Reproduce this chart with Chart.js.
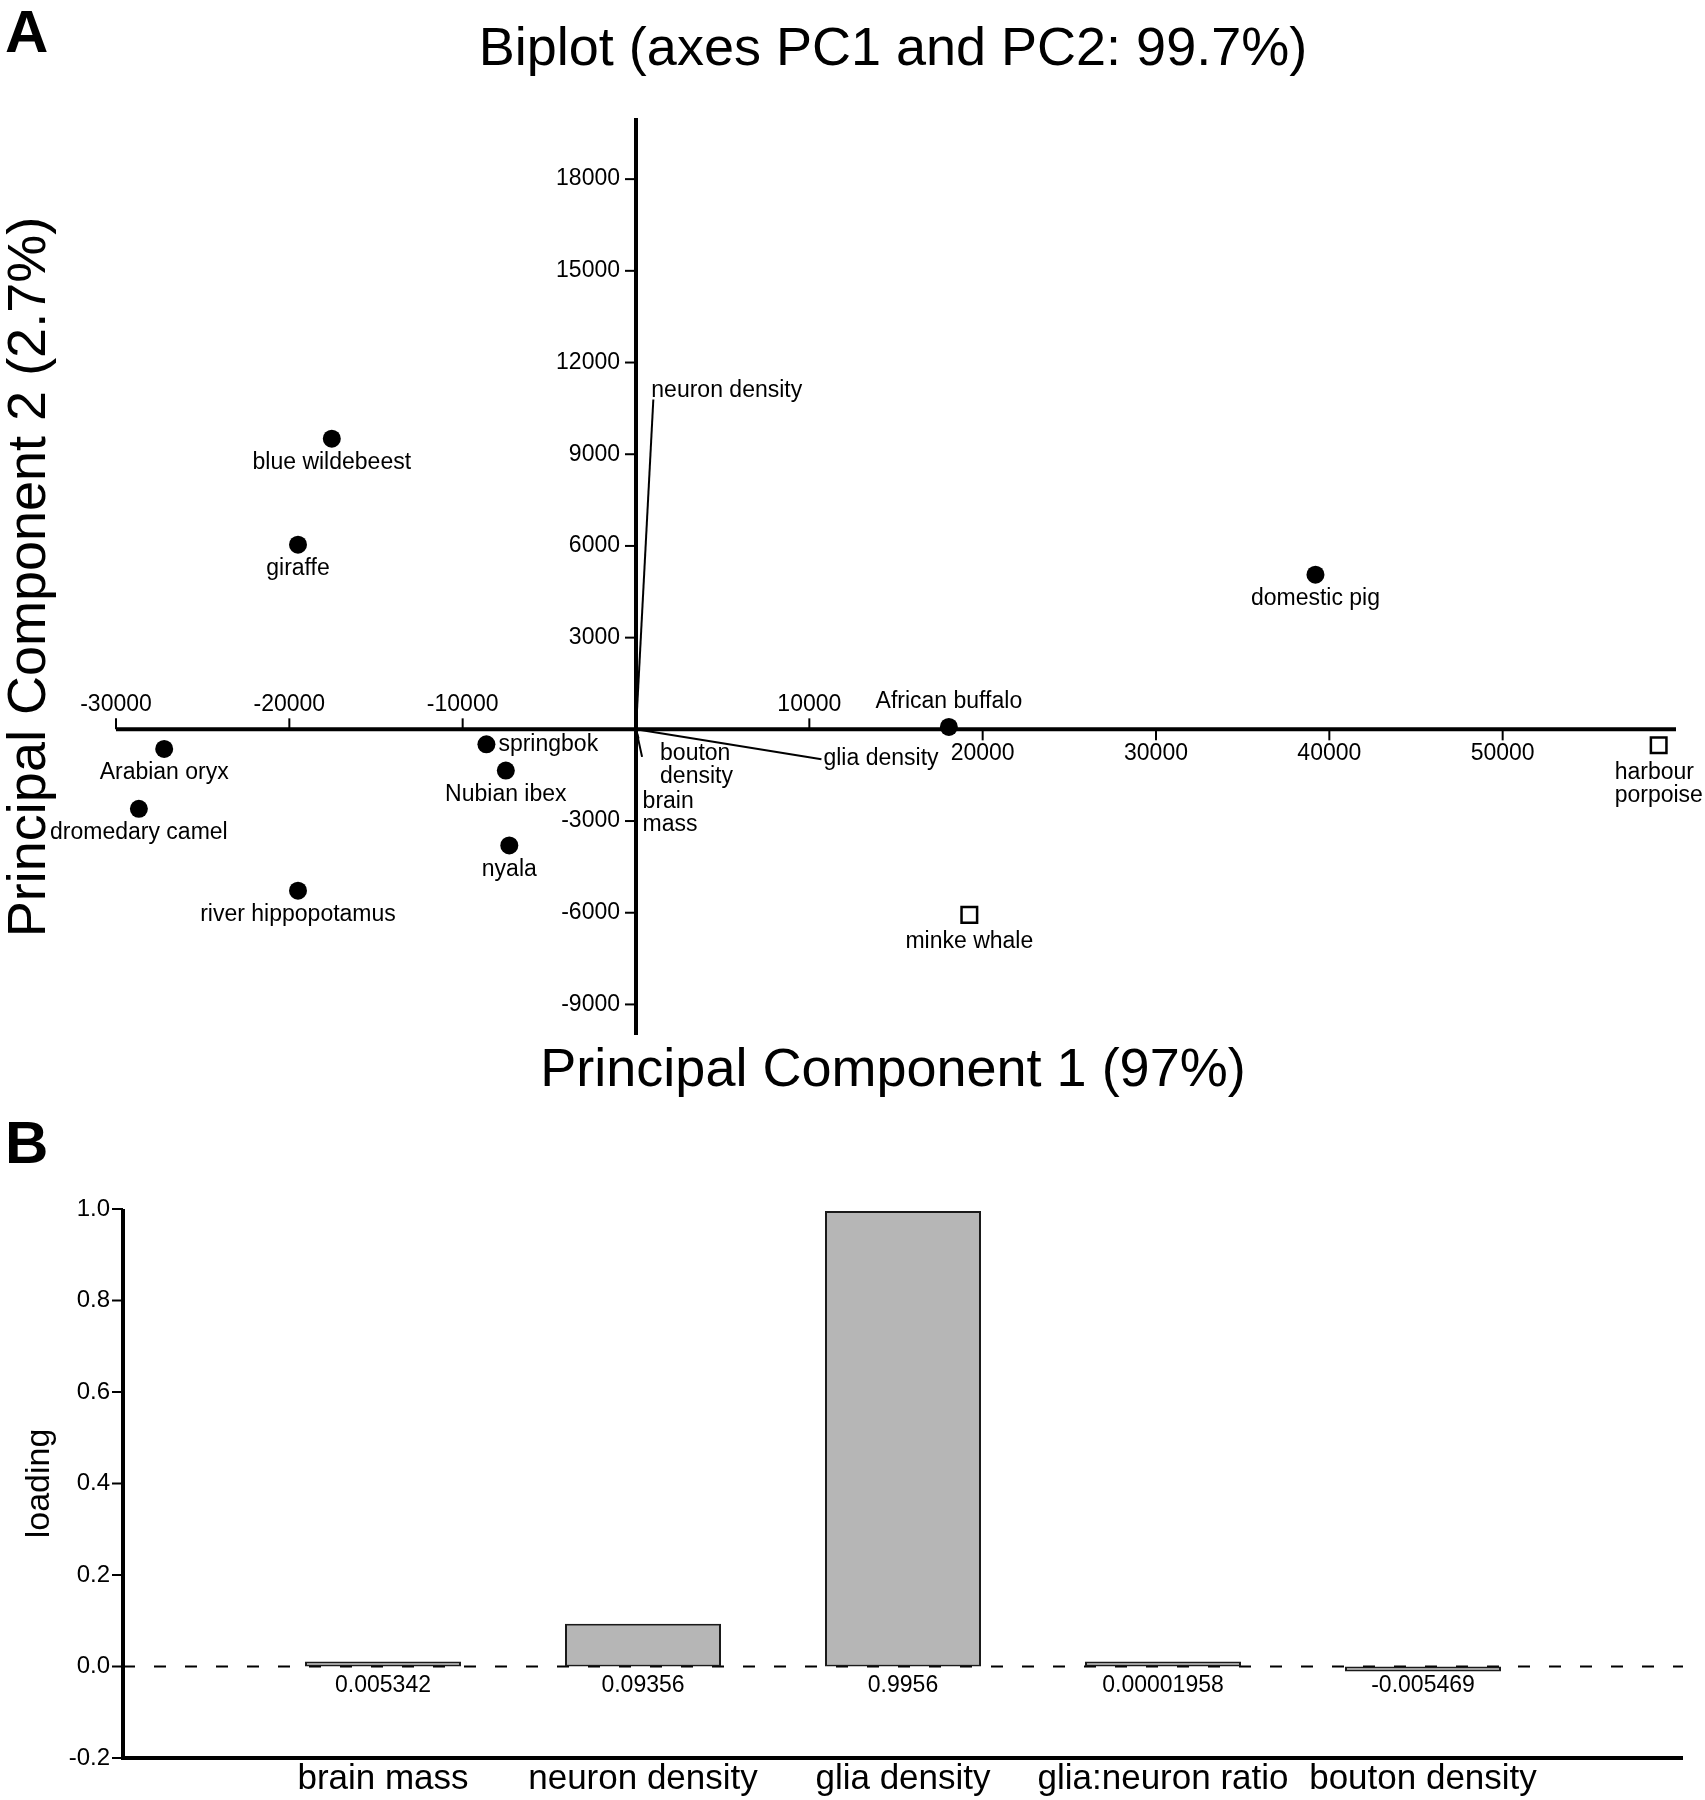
<!DOCTYPE html>
<html>
<head>
<meta charset="utf-8">
<script src="https://cdn.jsdelivr.net/npm/chart.js@4.4.1/dist/chart.umd.min.js"></script>
<style>
  html, body { margin: 0; padding: 0; background: #fff; }
  #wrap { position: relative; width: 1705px; height: 1800px; }
  canvas { position: absolute; left: 0; }
  #biplot { top: 0; }
  #loadings { top: 1115px; }
</style>
</head>
<body>
<div id="wrap">
  <canvas id="biplot" width="1705" height="1115"></canvas>
  <canvas id="loadings" width="1705" height="685"></canvas>
</div>
<script>
// panel A - PCA scores
const speciesNames = ['blue wildebeest', 'giraffe', 'domestic pig', 'African buffalo', 'Arabian oryx',
  'dromedary camel', 'springbok', 'Nubian ibex', 'nyala', 'river hippopotamus'];
const speciesPC1 = [-17550, -19500, 39200, 18050, -27220, -28680, -8630, -7510, -7310, -19500];
const speciesPC2 = [9510, 6040, 5060, 80, -640, -2600, -490, -1350, -3800, -5280];

const cetaceanNames = ['minke whale', 'harbour porpoise'];
const cetaceanPC1 = [19230, 59000];
const cetaceanPC2 = [-6070, -520];

// loading vectors drawn from the origin
const vectorNames = ['neuron density', 'glia density', 'bouton density', 'brain mass'];
const vectorPC1 = [1000, 10700, 350, 150];
const vectorPC2 = [10790, -980, -900, -300];

const pc1Ticks = [-30000, -20000, -10000, 10000, 20000, 30000, 40000, 50000];
const pc2Ticks = [-9000, -6000, -3000, 3000, 6000, 9000, 12000, 15000, 18000];

// panel B - loadings
const variables = ['brain mass', 'neuron density', 'glia density', 'glia:neuron ratio', 'bouton density'];
const loadings = [0.005342, 0.09356, 0.9956, 0.00001958, -0.005469];
const loadingLabels = ['0.005342', '0.09356', '0.9956', '0.00001958', '-0.005469'];
const loadingTicks = [-0.2, 0.0, 0.2, 0.4, 0.6, 0.8, 1.0];

const FONT = '"Liberation Sans", Arial, Helvetica, sans-serif';

// where the point names sit (pixels from the marker)
const labelSpots = {
  'springbok': { align: 'left', dx: 12, dy: 0 },
  'African buffalo': { align: 'center', dx: 0, dy: -25 },
  'minke whale': { align: 'center', dx: 0, dy: 27 },
  'harbour porpoise': { align: 'left', dx: -44, dy: 27, lines: ['harbour', 'porpoise'] }
};
const vectorSpots = {
  'neuron density': { align: 'left', dx: -2, dy: -9 },
  'glia density': { align: 'left', dx: 2, dy: -1 },
  'bouton density': { align: 'left', dx: 18, dy: -3, lines: ['bouton', 'density'] },
  'brain mass': { align: 'left', dx: 4, dy: 63, lines: ['brain', 'mass'] }
};

function drawLabel(ctx, text, px, py, spot, lineGap) {
  const s = spot || { align: 'center', dx: 0, dy: 24 };
  const lines = s.lines || [text];
  ctx.textAlign = s.align;
  lines.forEach((t, i) => ctx.fillText(t, px + s.dx, py + s.dy + i * lineGap));
}

const biplotAxes = {
  id: 'biplotAxes',
  beforeDatasetsDraw(chart) {
    const { ctx, scales: { x, y } } = chart;
    const x0 = x.getPixelForValue(0);
    const y0 = y.getPixelForValue(0);
    ctx.save();
    ctx.strokeStyle = '#000';
    ctx.fillStyle = '#000';
    ctx.lineWidth = 4;
    ctx.beginPath();
    ctx.moveTo(x.left, y0);
    ctx.lineTo(x.right, y0);
    ctx.moveTo(x0, y.top);
    ctx.lineTo(x0, y.bottom);
    ctx.stroke();

    ctx.lineWidth = 2;
    ctx.font = '23px ' + FONT;
    ctx.textBaseline = 'middle';
    ctx.textAlign = 'center';
    pc1Ticks.forEach(v => {
      const px = x.getPixelForValue(v);
      const up = v < 20000;
      ctx.beginPath();
      ctx.moveTo(px, y0);
      ctx.lineTo(px, up ? y0 - 11 : y0 + 11);
      ctx.stroke();
      ctx.fillText(String(v), px, up ? y0 - 25 : y0 + 24);
    });
    ctx.textAlign = 'right';
    pc2Ticks.forEach(v => {
      const py = y.getPixelForValue(v);
      ctx.beginPath();
      ctx.moveTo(x0, py);
      ctx.lineTo(x0 - 11, py);
      ctx.stroke();
      ctx.fillText(String(v), x0 - 16, py);
    });
    ctx.restore();
  },
  afterDatasetsDraw(chart) {
    const { ctx, scales: { x, y } } = chart;
    ctx.save();
    ctx.fillStyle = '#000';
    ctx.font = '23px ' + FONT;
    ctx.textBaseline = 'middle';
    speciesNames.forEach((n, i) => {
      drawLabel(ctx, n, x.getPixelForValue(speciesPC1[i]), y.getPixelForValue(speciesPC2[i]), labelSpots[n], 23);
    });
    cetaceanNames.forEach((n, i) => {
      drawLabel(ctx, n, x.getPixelForValue(cetaceanPC1[i]), y.getPixelForValue(cetaceanPC2[i]), labelSpots[n], 23);
    });
    vectorNames.forEach((n, i) => {
      drawLabel(ctx, n, x.getPixelForValue(vectorPC1[i]), y.getPixelForValue(vectorPC2[i]), vectorSpots[n], 23);
    });

    // titles
    ctx.textAlign = 'center';
    ctx.font = '54px ' + FONT;
    ctx.fillText('Biplot (axes PC1 and PC2: 99.7%)', 893, 50);
    ctx.fillText('Principal Component 1 (97%)', 893, 1071);
    ctx.translate(30, 577);
    ctx.rotate(-Math.PI / 2);
    ctx.fillText('Principal Component 2 (2.7%)', 0, 0);
    ctx.restore();

    ctx.save();
    ctx.font = 'bold 60px ' + FONT;
    ctx.textBaseline = 'alphabetic';
    ctx.textAlign = 'left';
    ctx.fillText('A', 5, 52);
    ctx.restore();
  }
};

const vectorSets = vectorNames.map((n, i) => ({
  label: n,
  data: [{ x: 0, y: 0 }, { x: vectorPC1[i], y: vectorPC2[i] }],
  showLine: true,
  borderColor: '#000',
  borderWidth: 2,
  pointRadius: 0,
  fill: false,
  tension: 0
}));

new Chart(document.getElementById('biplot'), {
  type: 'scatter',
  data: {
    datasets: [
      {
        label: 'ungulates',
        data: speciesPC1.map((v, i) => ({ x: v, y: speciesPC2[i] })),
        pointStyle: 'circle',
        pointRadius: 9,
        backgroundColor: '#000',
        borderColor: '#000',
        borderWidth: 0
      },
      {
        label: 'cetaceans',
        data: cetaceanPC1.map((v, i) => ({ x: v, y: cetaceanPC2[i] })),
        pointStyle: 'rect',
        pointRadius: 11,
        backgroundColor: '#fff',
        borderColor: '#000',
        borderWidth: 2.5
      },
      ...vectorSets
    ]
  },
  options: {
    responsive: false,
    animation: false,
    devicePixelRatio: 1,
    events: [],
    layout: { padding: { left: 116, right: 29, top: 118, bottom: 80 } },
    plugins: { legend: { display: false }, tooltip: { enabled: false } },
    scales: {
      x: { type: 'linear', min: -30000, max: 60000, display: false },
      y: { type: 'linear', min: -10000, max: 20000, display: false }
    }
  },
  plugins: [biplotAxes]
});

const loadingAxes = {
  id: 'loadingAxes',
  beforeDatasetsDraw(chart) {
    const { ctx, scales: { x, y } } = chart;
    const y0 = y.getPixelForValue(0);
    ctx.save();
    ctx.strokeStyle = '#000';
    ctx.fillStyle = '#000';

    ctx.lineWidth = 2;
    ctx.setLineDash([12, 19]);
    ctx.beginPath();
    ctx.moveTo(x.left, y0);
    ctx.lineTo(x.right, y0);
    ctx.stroke();
    ctx.setLineDash([]);

    ctx.lineWidth = 4;
    ctx.beginPath();
    ctx.moveTo(x.left, y.top);
    ctx.lineTo(x.left, y.bottom);
    ctx.lineTo(x.right, y.bottom);
    ctx.stroke();

    ctx.lineWidth = 2;
    ctx.font = '24px ' + FONT;
    ctx.textAlign = 'right';
    ctx.textBaseline = 'middle';
    loadingTicks.forEach(v => {
      const py = y.getPixelForValue(v);
      ctx.beginPath();
      ctx.moveTo(x.left, py);
      ctx.lineTo(x.left - 11, py);
      ctx.stroke();
      ctx.fillText(v.toFixed(1), x.left - 13, py);
    });
    ctx.restore();
  },
  afterDatasetsDraw(chart) {
    const { ctx, scales: { x, y } } = chart;
    const y0 = y.getPixelForValue(0);
    ctx.save();
    ctx.fillStyle = '#000';
    ctx.textAlign = 'center';
    ctx.textBaseline = 'middle';
    ctx.font = '23px ' + FONT;
    loadingLabels.forEach((t, i) => ctx.fillText(t, x.getPixelForValue(i + 1), y0 + 19));
    ctx.font = '35px ' + FONT;
    variables.forEach((t, i) => ctx.fillText(t, x.getPixelForValue(i + 1), y.bottom + 21));

    ctx.font = '34px ' + FONT;
    ctx.translate(40, (y.top + y.bottom) / 2);
    ctx.rotate(-Math.PI / 2);
    ctx.fillText('loading', 0, 0);
    ctx.restore();

    ctx.save();
    ctx.font = 'bold 60px ' + FONT;
    ctx.fillStyle = '#000';
    ctx.fillText('B', 5, 48);
    ctx.restore();
  }
};

new Chart(document.getElementById('loadings'), {
  type: 'bar',
  data: {
    datasets: [{
      label: 'loading',
      data: loadings.map((v, i) => ({ x: i + 1, y: v })),
      backgroundColor: '#b6b6b6',
      borderColor: '#1a1a1a',
      borderWidth: 2,
      borderSkipped: false,
      minBarLength: 5,
      barPercentage: 0.6,
      categoryPercentage: 1
    }]
  },
  options: {
    responsive: false,
    animation: false,
    devicePixelRatio: 1,
    events: [],
    layout: { padding: { left: 123, right: 22, top: 94, bottom: 42 } },
    plugins: { legend: { display: false }, tooltip: { enabled: false } },
    scales: {
      x: { type: 'linear', min: 0, max: 6, offset: false, display: false, ticks: { stepSize: 1 } },
      y: { type: 'linear', min: -0.2, max: 1.0, display: false }
    }
  },
  plugins: [loadingAxes]
});
</script>
</body>
</html>
